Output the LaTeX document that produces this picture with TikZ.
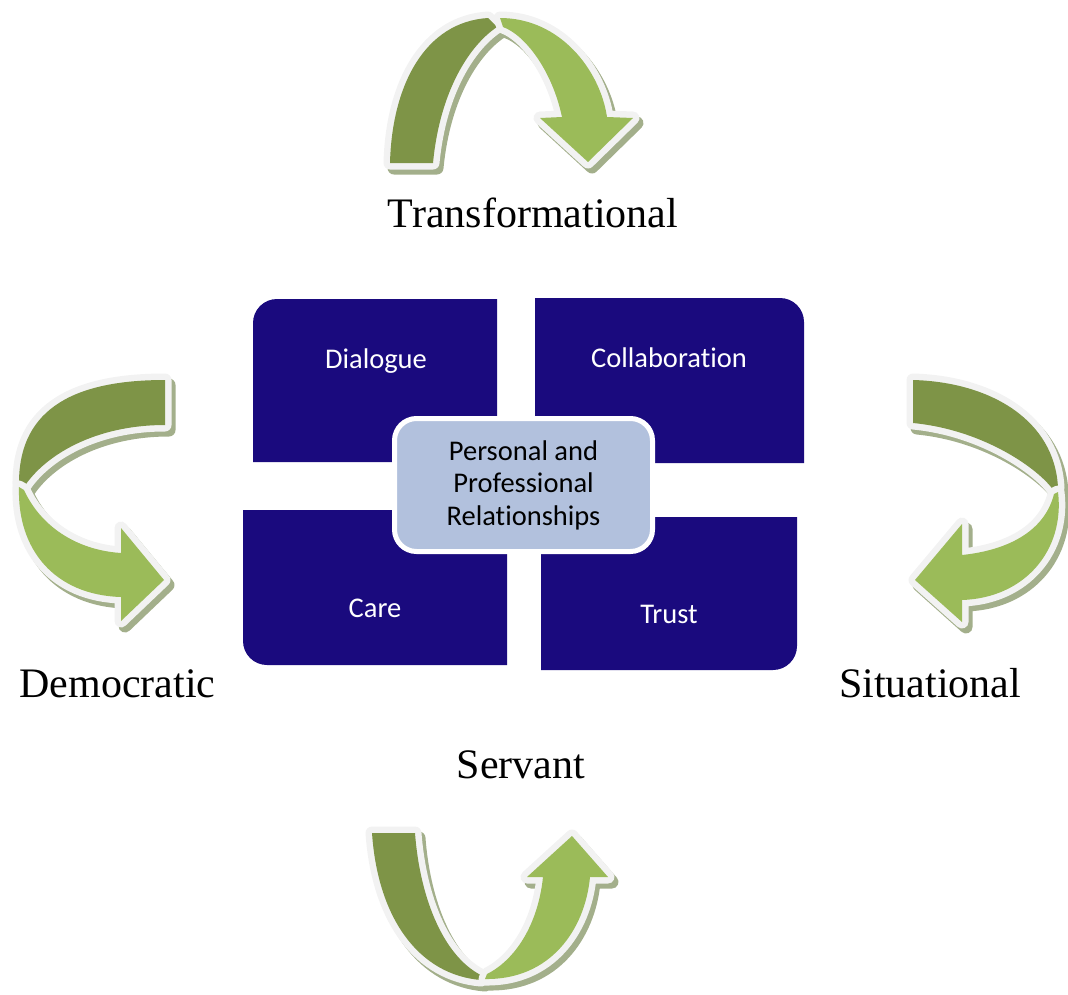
\documentclass[tikz,border=0pt]{standalone}
\usepackage{fontspec}
\setmainfont{Liberation Serif}
\newfontfamily\calibfont[Ligatures={NoCommon}]{Carlito}
\definecolor{navy}{HTML}{1A0A7E}
\definecolor{centerblue}{HTML}{B2C1DD}
\definecolor{dgreen}{HTML}{7E9447}
\definecolor{lgreen}{HTML}{9BBB59}
\definecolor{outl}{HTML}{F2F2F2}
\definecolor{shad}{HTML}{A3AF8B}
\tikzset{
  shadowpart/.style={fill=shad, draw=shad, line width=13pt, line join=round, shift={(4,5)}},
  darkpart/.style={fill=dgreen, preaction={draw=outl, line width=13pt, line join=round}},
  lightpart/.style={fill=lgreen, preaction={draw=outl, line width=13pt, line join=round}},
  navybox/.style={fill=navy},
  boxtext/.style={font=\calibfont\fontsize{28.5}{34}\selectfont, text=white, anchor=base, inner sep=0pt},
  lbl/.style={font=\fontsize{42}{50}\selectfont, text=black, anchor=base, inner sep=0pt},
  centerbox/.style={fill=centerblue, draw=white, line width=5pt, rounded corners=22pt,
     minimum width=258pt, minimum height=133pt, inner sep=0pt, align=center,
     font=\calibfont\fontsize{28.5}{32.5}\selectfont, text=black}
}
% top arrow
\newcommand\TAdark[1]{\path[#1] (390,163) .. controls (392,85) and (425,22) .. (488,18) -- (497,27) .. controls (470,45) and (440,90) .. (433,163) -- cycle;}
\newcommand\TAlight[1]{\path[#1] (500,18) .. controls (560,18) and (600,70) .. (607,117) -- (633,118) -- (588,162) -- (540,118) -- (562,117) .. controls (552,70) and (525,35) .. (503,27) -- cycle;}
% left arrow
\newcommand\LAdark[1]{\path[#1] (165,380) .. controls (80,380) and (18,405) .. (19,485) -- (24,487) .. controls (45,455) and (95,425) .. (165,425) -- cycle;}
\newcommand\LAlight[1]{\path[#1] (19,487) .. controls (17,550) and (55,595) .. (121,597) -- (121,621) -- (164,580) -- (121,528) -- (121,553) .. controls (75,550) and (40,525) .. (24,490) -- cycle;}
% right arrow
\newcommand\RAdark[1]{\path[#1] (913,380) .. controls (990,382) and (1055,420) .. (1058,488) -- (1054,491) .. controls (1040,470) and (985,430) .. (913,423) -- cycle;}
\newcommand\RAlight[1]{\path[#1] (1058,492) .. controls (1065,550) and (1025,598) .. (962,600) -- (962,622) -- (915,580) -- (962,524) -- (962,555) .. controls (1010,550) and (1045,530) .. (1054,494) -- cycle;}
% bottom arrow
\newcommand\BAdark[1]{\path[#1] (372,833) -- (415,833) .. controls (420,900) and (445,960) .. (485,977) -- (481,980) .. controls (420,975) and (378,920) .. (372,833) -- cycle;}
\newcommand\BAlight[1]{\path[#1] (485,979) .. controls (550,980) and (585,930) .. (590,877) -- (608,877) -- (572,836) -- (527,877) -- (543,877) .. controls (538,925) and (515,960) .. (487,974) -- cycle;}
\begin{document}
\begin{tikzpicture}[x=1pt, y=-1pt]
\useasboundingbox (0,0) rectangle (1068,994);
% shadows
\TAdark{shadowpart}\TAlight{shadowpart}
\LAdark{shadowpart}\LAlight{shadowpart}
\RAdark{shadowpart}\RAlight{shadowpart}
\BAdark{shadowpart}\BAlight{shadowpart}
% arrows
\TAdark{darkpart}\TAlight{lightpart}
\LAdark{darkpart}\LAlight{lightpart}
\RAdark{darkpart}\RAlight{lightpart}
\BAdark{darkpart}\BAlight{lightpart}
% navy boxes
\fill[navybox] (253,462) [rounded corners=24pt] -- (253,299) [sharp corners] -- (497,299) -- (497,462) -- cycle;
\fill[navybox] (535,298) [rounded corners=24pt] -- (804,298) [sharp corners] -- (804,463) -- (535,463) -- cycle;
\fill[navybox] (507,510) -- (243,510) [rounded corners=24pt] -- (243,665) [sharp corners] -- (507,665) -- cycle;
\fill[navybox] (541,517) -- (797,517) [rounded corners=24pt] -- (797,670) [sharp corners] -- (541,670) -- cycle;
\node[boxtext] (dialogue) at (376,368) {Dialogue};
\node[boxtext] (collab) at (669,367) {Collaboration};
\node[boxtext] (care) at (375,617) {Care};
\node[boxtext] (trust) at (669,623) {Trust};
% center
\node[centerbox] (center) at (523.5,485) {Personal and\\Professional\\Relationships};
% labels
\node[lbl] (transf) at (533,227) {Transformational};
\node[lbl] (democ) at (117.5,697) {Democratic};
\node[lbl] (situ) at (930,697) {Situational};
\node[lbl] (servant) at (521,778) {Servant};
\end{tikzpicture}
\end{document}
